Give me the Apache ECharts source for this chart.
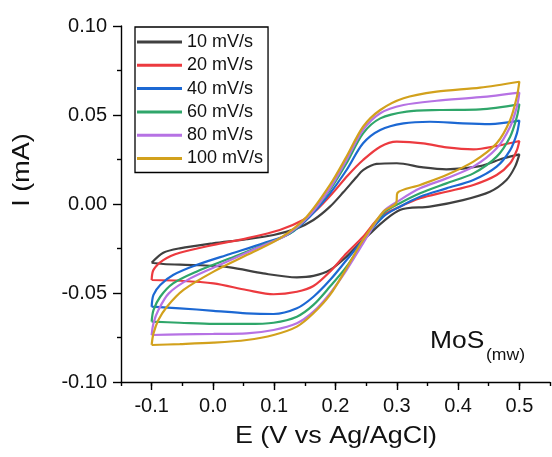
<!DOCTYPE html>
<html>
<head>
<meta charset="utf-8">
<script src="https://cdn.jsdelivr.net/npm/echarts@6/dist/echarts.min.js"></script>
<style>html,body{margin:0;padding:0;background:#fff}#c{width:552px;height:457px}</style>
</head>
<body>
<div id="c"></div>
<script>
const seriesNames = ['10 mV/s','20 mV/s','40 mV/s','60 mV/s','80 mV/s','100 mV/s'];
const xTicks = [-0.1,0.0,0.1,0.2,0.3,0.4,0.5];
const yTicks = [-0.10,-0.05,0.00,0.05,0.10];

const cv10 = [[-0.100,-0.0330],[-0.081,-0.0274],[-0.054,-0.0249],[0.000,-0.0221],[0.055,-0.0198],[0.099,-0.0174],[0.137,-0.0137],[0.164,-0.0090],[0.191,-0.0015],[0.213,0.0067],[0.234,0.0150],[0.245,0.0190],[0.267,0.0225],[0.300,0.0229],[0.343,0.0206],[0.381,0.0195],[0.436,0.0213],[0.474,0.0257],[0.500,0.0279],
  [0.493,0.0210],[0.479,0.0135],[0.452,0.0069],[0.408,0.0022],[0.354,-0.0015],[0.305,-0.0034],[0.245,-0.0202],[0.218,-0.0296],[0.191,-0.0371],[0.164,-0.0404],[0.137,-0.0412],[0.082,-0.0390],[0.028,-0.0356],[-0.027,-0.0343],[-0.081,-0.0337],[-0.100,-0.0330]];
const cv20 = [[-0.100,-0.0427],[-0.097,-0.0370],[-0.081,-0.0315],[-0.054,-0.0274],[0.001,-0.0230],[0.055,-0.0193],[0.109,-0.0146],[0.147,-0.0090],[0.170,-0.0030],[0.195,0.0060],[0.220,0.0160],[0.245,0.0247],[0.273,0.0322],[0.300,0.0350],[0.343,0.0341],[0.381,0.0318],[0.425,0.0307],[0.463,0.0326],[0.500,0.0354],
  [0.496,0.0303],[0.485,0.0229],[0.463,0.0163],[0.425,0.0107],[0.381,0.0069],[0.338,0.0032],[0.305,-0.0015],[0.273,-0.0071],[0.245,-0.0184],[0.218,-0.0277],[0.191,-0.0380],[0.164,-0.0461],[0.137,-0.0493],[0.099,-0.0507],[0.055,-0.0483],[0.001,-0.0446],[-0.054,-0.0431],[-0.100,-0.0427]];
const cv40 = [[-0.100,-0.0577],[-0.097,-0.0511],[-0.086,-0.0455],[-0.065,-0.0399],[-0.027,-0.0343],[0.028,-0.0281],[0.082,-0.0221],[0.126,-0.0165],[0.158,-0.0071],[0.191,0.0060],[0.218,0.0191],[0.245,0.0341],[0.273,0.0416],[0.311,0.0453],[0.354,0.0462],[0.408,0.0453],[0.452,0.0449],[0.500,0.0468],
  [0.496,0.0397],[0.485,0.0303],[0.463,0.0210],[0.425,0.0135],[0.381,0.0088],[0.338,0.0041],[0.305,-0.0015],[0.278,-0.0071],[0.245,-0.0202],[0.218,-0.0315],[0.191,-0.0427],[0.164,-0.0521],[0.137,-0.0586],[0.099,-0.0618],[0.055,-0.0614],[0.001,-0.0600],[-0.054,-0.0586],[-0.100,-0.0577]];
const cv60 = [[-0.100,-0.0661],[-0.097,-0.0596],[-0.086,-0.0521],[-0.065,-0.0446],[-0.027,-0.0380],[0.028,-0.0305],[0.082,-0.0230],[0.126,-0.0165],[0.158,-0.0062],[0.191,0.0079],[0.218,0.0229],[0.245,0.0397],[0.273,0.0481],[0.316,0.0519],[0.370,0.0528],[0.436,0.0532],[0.500,0.0560],
  [0.496,0.0490],[0.485,0.0378],[0.463,0.0266],[0.425,0.0172],[0.381,0.0116],[0.338,0.0060],[0.305,0.0004],[0.278,-0.0052],[0.245,-0.0212],[0.218,-0.0352],[0.191,-0.0464],[0.164,-0.0567],[0.137,-0.0633],[0.099,-0.0667],[0.055,-0.0674],[0.001,-0.0674],[-0.054,-0.0667],[-0.100,-0.0661]];
const cv80 = [[-0.100,-0.0736],[-0.097,-0.0670],[-0.089,-0.0596],[-0.072,-0.0502],[-0.037,-0.0418],[0.017,-0.0333],[0.071,-0.0249],[0.120,-0.0174],[0.158,-0.0062],[0.191,0.0088],[0.218,0.0247],[0.245,0.0416],[0.273,0.0510],[0.311,0.0556],[0.365,0.0580],[0.436,0.0600],[0.500,0.0626],
  [0.496,0.0547],[0.485,0.0434],[0.463,0.0313],[0.425,0.0210],[0.381,0.0144],[0.338,0.0088],[0.305,0.0022],[0.278,-0.0043],[0.245,-0.0221],[0.218,-0.0371],[0.191,-0.0502],[0.164,-0.0605],[0.137,-0.0670],[0.099,-0.0708],[0.055,-0.0727],[0.001,-0.0730],[-0.054,-0.0732],[-0.100,-0.0736]];
const cv100 = [[-0.100,-0.0792],[-0.097,-0.0727],[-0.089,-0.0652],[-0.075,-0.0577],[-0.048,-0.0483],[0.001,-0.0380],[0.055,-0.0287],[0.109,-0.0193],[0.153,-0.0071],[0.191,0.0107],[0.218,0.0266],[0.245,0.0434],[0.273,0.0528],[0.311,0.0594],[0.365,0.0631],[0.436,0.0654],[0.500,0.0687],
  [0.496,0.0603],[0.485,0.0472],[0.463,0.0341],[0.425,0.0238],[0.381,0.0163],[0.338,0.0107],[0.301,0.0062],[0.299,0.0005],[0.278,-0.0043],[0.245,-0.0202],[0.218,-0.0361],[0.191,-0.0511],[0.164,-0.0614],[0.137,-0.0689],[0.099,-0.0736],[0.055,-0.0764],[0.001,-0.0779],[-0.054,-0.0787],[-0.100,-0.0792]];

const allData = [cv10, cv20, cv40, cv60, cv80, cv100];
const colors = ['#404040','#ec3a3f','#1c68d3','#2fa66a','#b672e4','#d2a11c'];

const FONT = '"Liberation Sans", Arial, sans-serif';
const chart = echarts.init(document.getElementById('c'), null, {renderer:'canvas'});
chart.setOption({
  animation: false,
  backgroundColor: '#fff',
  grid: {left: 121, right: 2, top: 26, bottom: 75, containLabel: false},
  legend: {
    orient: 'vertical', left: 135, top: 27,
    icon: 'rect', itemWidth: 45, itemHeight: 3, itemGap: 5.3,
    padding: [6, 5, 5, 2],
    borderColor: '#000', borderWidth: 1.3,
    textStyle: {fontFamily: FONT, fontSize: 18, color: '#111', lineHeight: 18, padding: [0,0,0,0]},
    data: seriesNames
  },
  xAxis: [{
    type: 'value', min: -0.15, max: 0.55, position: 'bottom',
    splitLine: {show: false},
    axisLine: {show: true, onZero: false, lineStyle: {color: '#000', width: 1.4}},
    axisTick: {show: true, inside: false, length: 8, lineStyle: {color: '#000', width: 1.4}, customValues: xTicks},
    axisLabel: {show: true, margin: 14, fontFamily: FONT, fontSize: 20, color: '#111', customValues: xTicks,
      formatter: v => (Math.abs(v) < 1e-9 ? 0 : v).toFixed(1)}
  },{
    type: 'value', min: -0.15, max: 0.55, interval: 0.05, position: 'bottom',
    splitLine: {show: false},
    axisLine: {show: false, onZero: false},
    axisTick: {show: true, inside: false, length: 4, lineStyle: {color: '#000', width: 1.4}},
    axisLabel: {show: false}
  }],
  yAxis: {
    type: 'value', min: -0.1, max: 0.1, interval: 0.05,
    splitLine: {show: false},
    axisLine: {show: true, onZero: false, lineStyle: {color: '#000', width: 1.4}},
    axisTick: {show: true, inside: false, length: 8, lineStyle: {color: '#000', width: 1.4}},
    minorTick: {show: true, splitNumber: 2, length: 4, lineStyle: {color: '#000', width: 1.4}},
    axisLabel: {margin: 14, fontFamily: FONT, fontSize: 20, color: '#111',
      formatter: v => (Math.abs(v) < 1e-9 ? 0 : v).toFixed(2)}
  },
  series: allData.map((d, i) => ({
    name: seriesNames[i], type: 'line', data: d, xAxisIndex: 0,
    showSymbol: false, symbol: 'none', smooth: 0.3,
    lineStyle: {width: 2.2, color: colors[i]}, itemStyle: {color: colors[i]}
  })),
  graphic: [
    {type: 'text', x: 336, y: 436, scaleX: 1.1, style: {text: 'E (V vs Ag/AgCl)', fontFamily: FONT, fontSize: 24.5, fill: '#111', textAlign: 'center', textVerticalAlign: 'middle'}},
    {type: 'text', x: 22, y: 170, rotation: Math.PI/2, scaleX: 1.1, style: {text: 'I (mA)', fontFamily: FONT, fontSize: 24.5, fill: '#111', textAlign: 'center', textVerticalAlign: 'middle'}},
    {type: 'text', x: 430, y: 341.5, scaleX: 1.1, style: {text: 'MoS', fontFamily: FONT, fontSize: 24, fill: '#111', textAlign: 'left', textVerticalAlign: 'middle'}},
    {type: 'text', x: 486, y: 356, scaleX: 1.1, style: {text: '(mw)', fontFamily: FONT, fontSize: 16, fill: '#111', textAlign: 'left', textVerticalAlign: 'middle'}}
  ]
});
</script>
</body>
</html>
